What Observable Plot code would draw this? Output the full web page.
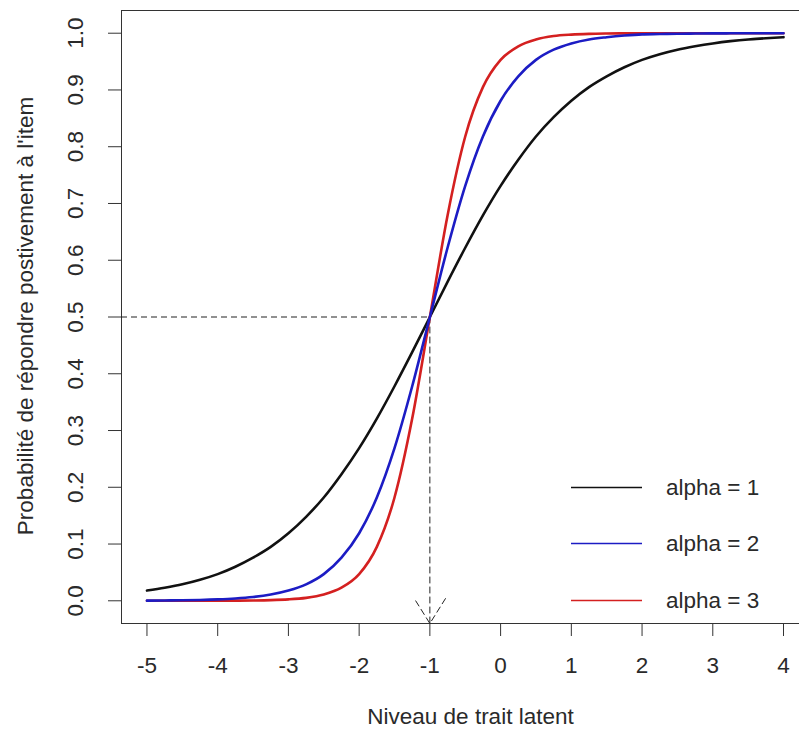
<!DOCTYPE html>
<html>
<head>
<meta charset="utf-8">
<script src="https://cdn.jsdelivr.net/npm/d3@7"></script>
<script src="https://cdn.jsdelivr.net/npm/@observablehq/plot@0.6"></script>
<style>
  html, body { margin: 0; padding: 0; background: #fff; }
  #wrap { position: relative; width: 799px; height: 733px; }
  #legend { position: absolute; left: 0; top: 0; pointer-events: none; }
</style>
</head>
<body>
<div id="wrap"></div>
<script>
// Latent trait levels (x)
const theta = [-5, -4.75, -4.5, -4.25, -4, -3.75, -3.5, -3.25, -3, -2.75, -2.5, -2.25, -2, -1.75, -1.5, -1.25, -1, -0.75, -0.5, -0.25, 0, 0.25, 0.5, 0.75, 1, 1.25, 1.5, 1.75, 2, 2.25, 2.5, 2.75, 3, 3.25, 3.5, 3.75, 4];
// Probabilities
const pAlpha1 = [0.018, 0.023, 0.029, 0.037, 0.047, 0.060, 0.076, 0.095, 0.119, 0.148, 0.182, 0.223, 0.269, 0.321, 0.378, 0.438, 0.500, 0.562, 0.622, 0.679, 0.731, 0.777, 0.818, 0.852, 0.881, 0.905, 0.924, 0.940, 0.953, 0.963, 0.971, 0.977, 0.982, 0.986, 0.989, 0.991, 0.993];
const pAlpha2 = [0.0003, 0.0006, 0.0009, 0.0015, 0.0025, 0.0041, 0.0067, 0.011, 0.018, 0.029, 0.047, 0.076, 0.119, 0.182, 0.269, 0.378, 0.500, 0.622, 0.731, 0.818, 0.881, 0.924, 0.953, 0.971, 0.982, 0.989, 0.993, 0.996, 0.998, 0.9985, 0.9991, 0.9994, 0.9997, 0.9998, 0.9999, 0.9999, 1.000];
const pAlpha3 = [0.0000, 0.0000, 0.0000, 0.0001, 0.0001, 0.0003, 0.0006, 0.0012, 0.0025, 0.0052, 0.011, 0.023, 0.047, 0.095, 0.182, 0.321, 0.500, 0.679, 0.818, 0.905, 0.953, 0.977, 0.989, 0.995, 0.9975, 0.9988, 0.9994, 0.9997, 0.9999, 0.9999, 1.000, 1.000, 1.000, 1.000, 1.000, 1.000, 1.000];
const seriesNames = ["alpha = 1", "alpha = 2", "alpha = 3"];
const xTicks = [-5, -4, -3, -2, -1, 0, 1, 2, 3, 4];
const yTicks = [0, 0.1, 0.2, 0.3, 0.4, 0.5, 0.6, 0.7, 0.8, 0.9, 1.0];
// Reference guide: difficulty b = -1 where p = 0.5
const guideTheta = [-1];
const guideP = [0.5];

const xDomain = [-5.36, 4.226];
const yDomain = [-0.04, 1.04];
const colors = ["#111111", "#1c1cc4", "#d42020"];

const mk = (p) => theta.map((x, i) => ({x, y: p[i]}));
const d1 = mk(pAlpha1), d2 = mk(pAlpha2), d3 = mk(pAlpha3);
const guide = guideTheta.map((b, i) => ({b, p: guideP[i]}));

const axisColor = "#333";
const textColor = "#2a2a2a";
const fs = 22.5;
const dash = "6,4";

const chart = Plot.plot({
  width: 799,
  height: 733,
  marginLeft: 121,
  marginRight: 0,
  marginTop: 10,
  marginBottom: 110,
  x: {domain: xDomain, axis: null},
  y: {domain: yDomain, axis: null},
  style: {fontFamily: "'Liberation Sans', Arial, sans-serif", fontSize: fs + "px", color: textColor, background: "#fff"},
  marks: [
    // box (left, top, bottom)
    Plot.ruleX([xDomain[0]], {stroke: axisColor}),
    Plot.ruleY([yDomain[0], yDomain[1]], {stroke: axisColor}),
    // ticks
    Plot.axisX({ticks: xTicks, tickSize: 13, tickPadding: 21, tickFormat: d => String(d), label: null, stroke: axisColor, fill: textColor, fontSize: fs}),
    Plot.axisY({ticks: yTicks, tickSize: 13, tickFormat: () => "", label: null, stroke: axisColor}),
    Plot.text(yTicks, {y: d => d, frameAnchor: "left", text: d => d.toFixed(1), rotate: -90, dx: -46, textAnchor: "middle", lineAnchor: "middle", fill: textColor, fontSize: fs}),
    // axis titles
    Plot.text(["Niveau de trait latent"], {frameAnchor: "bottom", text: d => d, dx: 10, dy: 93, textAnchor: "middle", lineAnchor: "middle", fill: textColor, fontSize: fs}),
    Plot.text(["Probabilité de répondre postivement à l'item"], {frameAnchor: "left", text: d => d, rotate: -90, dx: -96, dy: -1, textAnchor: "middle", lineAnchor: "middle", fill: textColor, fontSize: fs}),
    // guides
    Plot.ruleY(guide, {y: "p", x1: xDomain[0], x2: "b", stroke: "#222", strokeDasharray: dash, strokeWidth: 1}),
    Plot.arrow(guide, {x1: "b", y1: "p", x2: "b", y2: yDomain[0], stroke: "#222", strokeDasharray: dash, strokeWidth: 1, headLength: 44, headAngle: 64}),
    // curves
    Plot.line(d1, {x: "x", y: "y", stroke: colors[0], strokeWidth: 2.6, curve: "monotone-x"}),
    Plot.line(d3, {x: "x", y: "y", stroke: colors[2], strokeWidth: 2.6, curve: "monotone-x"}),
    Plot.line(d2, {x: "x", y: "y", stroke: colors[1], strokeWidth: 2.6, curve: "monotone-x"})
  ]
});

const wrap = document.getElementById("wrap");
wrap.appendChild(chart);

// Legend overlay
const ns = "http://www.w3.org/2000/svg";
const leg = document.createElementNS(ns, "svg");
leg.setAttribute("id", "legend");
leg.setAttribute("width", 799);
leg.setAttribute("height", 733);
const legendY = [487.5, 543.5, 600.5];
seriesNames.forEach((name, i) => {
  const l = document.createElementNS(ns, "line");
  l.setAttribute("x1", 571); l.setAttribute("x2", 642);
  l.setAttribute("y1", legendY[i]); l.setAttribute("y2", legendY[i]);
  l.setAttribute("stroke", colors[i]); l.setAttribute("stroke-width", 1.3);
  leg.appendChild(l);
  const t = document.createElementNS(ns, "text");
  t.setAttribute("x", 666); t.setAttribute("y", legendY[i]);
  t.setAttribute("dy", "0.35em");
  t.setAttribute("font-family", "'Liberation Sans', Arial, sans-serif");
  t.setAttribute("font-size", fs);
  t.setAttribute("fill", textColor);
  t.textContent = name;
  leg.appendChild(t);
});
wrap.appendChild(leg);
</script>
</body>
</html>
